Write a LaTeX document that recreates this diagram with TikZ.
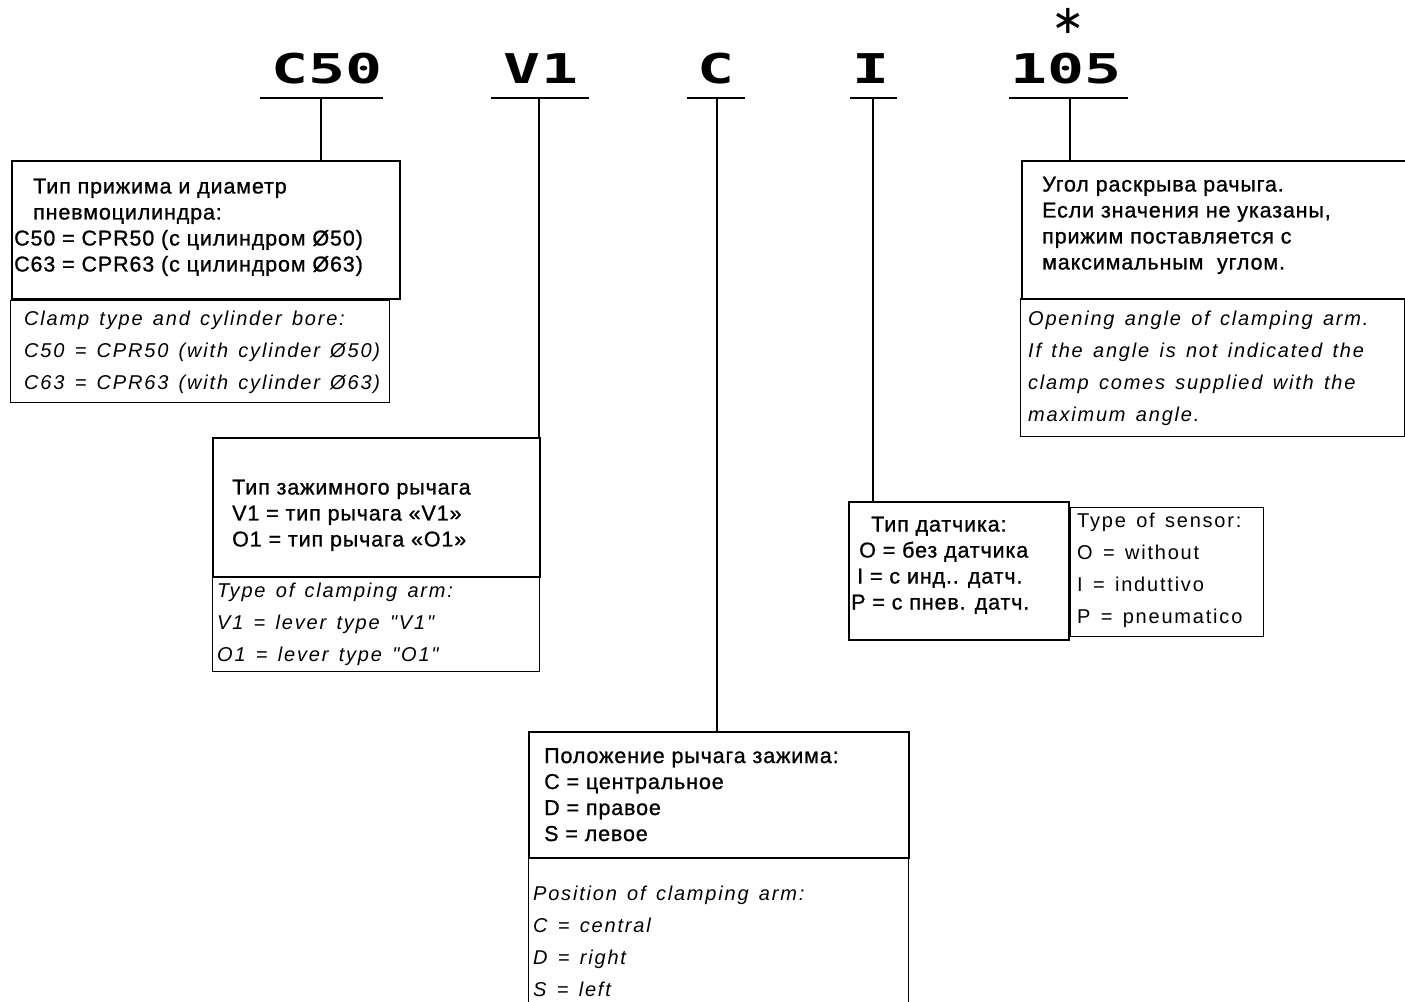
\documentclass[tikz,border=0pt]{standalone}
\usepackage{fontspec}
\setmainfont{Liberation Sans}
\newfontfamily\rusfont[LetterSpace=4, FakeBold=1]{Liberation Sans}
\newfontfamily\engfont[LetterSpace=9, WordSpace=1.4]{Liberation Sans}
\newfontfamily\codefont{DejaVu Sans Mono}
\newfontfamily\symfont{DejaVu Sans}

\newcommand{\rutext}{\rusfont\fontsize{21.5}{26}\selectfont}
\newcommand{\entext}{\engfont\itshape\fontsize{20}{32}\selectfont}
\newcommand{\upentext}{\engfont\fontsize{20}{32}\selectfont}
\newcommand{\codetext}[1]{\scalebox{1.5}[1]{\codefont\bfseries\fontsize{41}{41}\selectfont #1}}

\tikzset{
	rubox/.style={draw, line width=1.8pt, rectangle, inner sep=0pt, anchor=north west},
	enbox/.style={draw, line width=1.1pt, rectangle, inner sep=0pt, anchor=north west},
	txt/.style={inner sep=0pt, anchor=north west, align=left},
	code/.style={inner sep=0pt, anchor=base},
	uline/.style={line width=1.4pt},
	lead/.style={line width=1.3pt}
}

\begin{document}
\begin{tikzpicture}[x=1pt, y=-1pt]
	\useasboundingbox (0, 0) rectangle (1405, 1001);

	\node[code] (c50) at (327, 83) {\codetext{C50}};
	\node[code] (v1) at (541, 83) {\codetext{V1}};
	\node[code] (cc) at (716, 83) {\codetext{C}};
	\node[code] (ii) at (871, 83) {\codetext{I}};
	\node[code] (n105) at (1066, 83) {\codetext{105}};
	\node[inner sep=0pt, font=\symfont\fontsize{40}{40}\selectfont] (star) at (1068, 21) {∗};

	\coordinate (c50u) at (321, 98);
	\coordinate (v1u) at (539, 98);
	\coordinate (ccu) at (717, 98);
	\coordinate (iiu) at (873, 98);
	\coordinate (n105u) at (1070, 98);

	\draw[uline] (260, 98) -- (383, 98);
	\draw[uline] (491, 98) -- (589, 98);
	\draw[uline] (687, 98) -- (745, 98);
	\draw[uline] (850, 98) -- (897, 98);
	\draw[uline] (1009, 98) -- (1128, 98);

	\node[rubox, minimum width=388pt, minimum height=138pt] (box1ru) at (11, 160) {};
	\node[enbox, minimum width=379pt, minimum height=102pt] (box1en) at (10, 300) {};
	\node[rubox, minimum width=327pt, minimum height=139pt] (box2ru) at (212, 437) {};
	\node[enbox, minimum width=327pt, minimum height=94pt] (box2en) at (212, 577) {};
	\node[rubox, minimum width=390pt, minimum height=138pt] (box3ru) at (1021, 160) {};
	\node[enbox, minimum width=384pt, minimum height=138pt] (box3en) at (1020, 298) {};
	\node[rubox, minimum width=220pt, minimum height=138pt] (box4ru) at (848, 501) {};
	\node[enbox, minimum width=193pt, minimum height=129pt] (box4en) at (1070, 507) {};
	\node[rubox, minimum width=380pt, minimum height=126pt] (box5ru) at (528, 731) {};
	\node[enbox, minimum width=380pt, minimum height=150pt] (box5en) at (528, 858) {};

	\draw[lead] (c50u) -- (c50u |- box1ru.north);
	\draw[lead] (v1u) -- (v1u |- box2ru.north);
	\draw[lead] (ccu) -- (ccu |- box5ru.north);
	\draw[lead] (iiu) -- (iiu |- box4ru.north);
	\draw[lead] (n105u) -- (n105u |- box3ru.north);

	\node[txt, font=\rutext] (t1ru) at (14, 178.5) {\hspace*{19pt}Тип прижима и диаметр\\\hspace*{19pt}пневмоцилиндра:\\C50 = CPR50 (с цилиндром Ø50)\\C63 = CPR63 (с цилиндром Ø63)};
	\node[txt, font=\entext] (t1en) at (24, 310.4) {Clamp type and cylinder bore:\\C50 = CPR50 (with cylinder Ø50)\\C63 = CPR63 (with cylinder Ø63)};

	\node[txt, font=\rutext] (t2ru) at (232, 479.5) {Тип зажимного рычага\\V1 = тип рычага «V1»\\O1 = тип рычага «O1»};
	\node[txt, font=\entext] (t2en) at (217, 582.4) {Type of clamping arm:\\V1 = lever type "V1"\\O1 = lever type "O1"};

	\node[txt, font=\rutext] (t3ru) at (1042, 176.5) {Угол раскрыва рачыга.\\Если значения не указаны,\\прижим поставляется с\\максимальным\ \ углом.};
	\node[txt, font=\entext] (t3en) at (1028, 310.4) {Opening angle of clamping arm.\\If the angle is not indicated the\\clamp comes supplied with the\\maximum angle.};

	\node[txt, font=\rutext] (t4ru) at (851, 516.5) {\hspace*{20pt}Тип датчика:\\\hspace*{8pt}O = без датчика\\\hspace*{6pt}I = с инд.. датч.\\P = с пнев. датч.};
	\node[txt, font=\upentext] (t4en) at (1077, 512.4) {Type of sensor:\\O = without\\I = induttivo\\P = pneumatico};

	\node[txt, font=\rutext] (t5ru) at (544, 748) {Положение рычага зажима:\\C = центральное\\D = правое\\S = левое};
	\node[txt, font=\entext] (t5en) at (533, 885.4) {Position of clamping arm:\\C = central\\D = right\\S = left};

\end{tikzpicture}
\end{document}
